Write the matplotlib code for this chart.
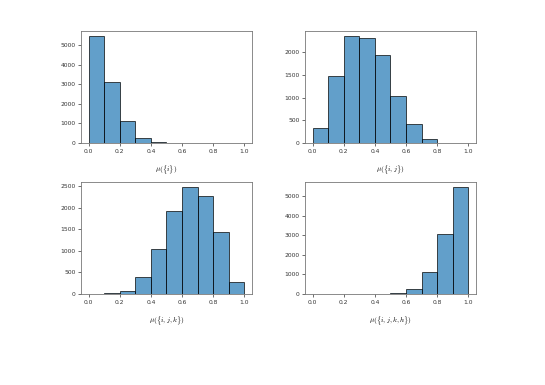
import numpy as np
import matplotlib
matplotlib.use("Agg")
import matplotlib.pyplot as plt

plt.rcParams["mathtext.fontset"] = "cm"

# bin edges 0.0 .. 1.0, step 0.1
bin_edges = [0.0, 0.1, 0.2, 0.3, 0.4, 0.5, 0.6, 0.7, 0.8, 0.9, 1.0]

# counts per bin
counts_i = [5450, 3120, 1100, 270, 40, 5, 0, 0, 0, 0]
counts_ij = [320, 1470, 2350, 2310, 1940, 1040, 420, 90, 10, 0]
counts_ijk = [0, 15, 80, 400, 1050, 1920, 2480, 2280, 1450, 280]
counts_ijkh = [0, 0, 0, 0, 0, 40, 280, 1120, 3080, 5460]

labels = [r"$\mu(\{i\})$", r"$\mu(\{i,j\})$",
          r"$\mu(\{i,j,k\})$", r"$\mu(\{i,j,k,h\})$"]

fig = plt.figure(figsize=(5.45, 3.85), dpi=100)

# ==== axes positions (figure fractions) ====
lefts = [0.1486, 0.5596]
bottoms = [0.6286, 0.2364]
w, h = 0.3138, 0.291

all_counts = [counts_i, counts_ij, counts_ijk, counts_ijkh]
for n, counts in enumerate(all_counts):
    ax = fig.add_axes([lefts[n % 2], bottoms[n // 2], w, h])
    widths = np.diff(bin_edges)
    ax.bar(bin_edges[:-1], counts, width=widths, align="edge",
           color="#1f77b4", alpha=0.7, edgecolor="black", linewidth=0.7)
    ax.set_xticks([0.0, 0.2, 0.4, 0.6, 0.8, 1.0])
    ax.tick_params(labelsize=4.3, length=2, width=0.5, pad=2,
                   colors="#333333")
    for s in ax.spines.values():
        s.set_color("#777777")
        s.set_linewidth(0.6)
    ax.set_xlabel(labels[n], fontsize=5.2, labelpad=7)

plt.savefig("out.png", dpi=100)
plt.close()
